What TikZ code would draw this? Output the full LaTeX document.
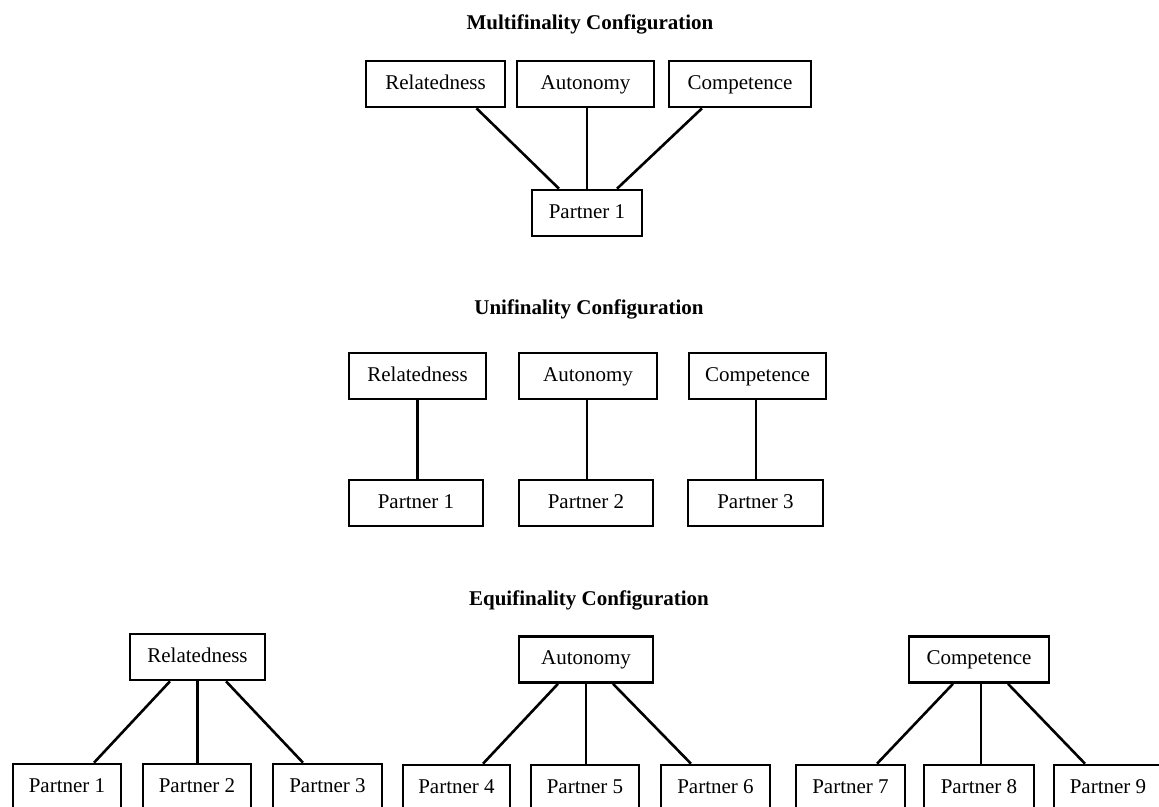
\documentclass[tikz,border=0pt]{standalone}
\usepackage{fontspec}
\setmainfont{Liberation Serif}
\begin{document}
\begin{tikzpicture}[x=1pt,y=-1pt,
  every node/.style={font=\fontsize{21}{25}\selectfont},
  box/.style={draw=black, line width=2.6pt, inner sep=0pt, minimum height=46pt,
    text height=14pt, text depth=4pt, fill=white},
  ttl/.style={anchor=base, font=\fontsize{21}{25}\selectfont\bfseries},
  conn/.style={line width=2.6pt, draw=black}]
\useasboundingbox (0,0) rectangle (1159,806);
\clip (0,0) rectangle (1159,806);

% ---------- Multifinality ----------
\node[ttl] (t1) at (590,29) {Multifinality Configuration};
\node[box, minimum width=139pt] (mR) at (435.5,84) {Relatedness};
\node[box, minimum width=137pt] (mA) at (585.5,84) {Autonomy};
\node[box, minimum width=142pt] (mC) at (740,84) {Competence};
\node[box, minimum width=110pt] (mP) at (587,213) {Partner 1};
\draw[conn] ([xshift=41pt]mR.south) -- ([xshift=-28pt]mP.north);
\draw[conn] (mP.north |- mA.south) -- (mP.north);
\draw[conn] ([xshift=-38pt]mC.south) -- ([xshift=30pt]mP.north);

% ---------- Unifinality ----------
\node[ttl] (t2) at (589,314) {Unifinality Configuration};
\node[box, minimum width=137pt] (uR) at (417.5,376) {Relatedness};
\node[box, minimum width=138pt] (uA) at (588,376) {Autonomy};
\node[box, minimum width=137pt] (uC) at (757.5,376) {Competence};
\node[box, minimum width=134pt] (uP1) at (416,503) {Partner 1};
\node[box, minimum width=134pt] (uP2) at (586,503) {Partner 2};
\node[box, minimum width=135pt] (uP3) at (755.5,503) {Partner 3};
\draw[conn] (uR.south) -- (uR.south |- uP1.north);
\draw[conn] ([xshift=-1pt]uA.south) -- ([xshift=-1pt]uA.south |- uP2.north);
\draw[conn] ([xshift=-1.5pt]uC.south) -- ([xshift=-1.5pt]uC.south |- uP3.north);

% ---------- Equifinality ----------
\node[ttl] (t3) at (589,605) {Equifinality Configuration};
\node[box, minimum width=135pt] (eR) at (197.5,657) {Relatedness};
\node[box, minimum width=134pt] (eA) at (586,659.5) {Autonomy};
\node[box, minimum width=140pt] (eC) at (979,659.5) {Competence};

\node[box, minimum width=108pt] (eP1) at (67,787) {Partner 1};
\node[box, minimum width=108pt] (eP2) at (197,787) {Partner 2};
\node[box, minimum width=109pt] (eP3) at (327.5,787) {Partner 3};
\node[box, minimum width=107pt] (eP4) at (456.5,788) {Partner 4};
\node[box, minimum width=108pt] (eP5) at (585,788) {Partner 5};
\node[box, minimum width=109pt] (eP6) at (715.5,788) {Partner 6};
\node[box, minimum width=109pt] (eP7) at (850.5,788) {Partner 7};
\node[box, minimum width=110pt] (eP8) at (979,788) {Partner 8};
\node[box, minimum width=108pt] (eP9) at (1108,788) {Partner 9};

\draw[conn] ([xshift=-27.5pt]eR.south) -- ([xshift=27pt]eP1.north);
\draw[conn] (eR.south) -- (eR.south |- eP2.north);
\draw[conn] ([xshift=28.5pt]eR.south) -- ([xshift=-24.5pt]eP3.north);

\draw[conn] ([xshift=-28pt]eA.south) -- ([xshift=26.5pt]eP4.north);
\draw[conn] (eA.south) -- (eA.south |- eP5.north);
\draw[conn] ([xshift=27pt]eA.south) -- ([xshift=-24.5pt]eP6.north);

\draw[conn] ([xshift=-26pt]eC.south) -- ([xshift=26.5pt]eP7.north);
\draw[conn] ([xshift=2pt]eC.south) -- ([xshift=2pt]eC.south |- eP8.north);
\draw[conn] ([xshift=29pt]eC.south) -- ([xshift=-23pt]eP9.north);
\end{tikzpicture}
\end{document}
